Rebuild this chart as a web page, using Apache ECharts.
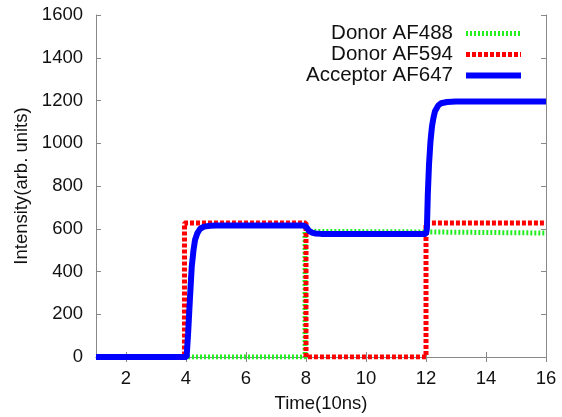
<!DOCTYPE html>
<html>
<head>
<meta charset="utf-8">
<script src="https://cdn.jsdelivr.net/npm/echarts@6/dist/echarts.min.js"></script>
<style>
  html, body { margin: 0; padding: 0; background: #fff; }
  #chart { width: 562px; height: 417px; }
</style>
</head>
<body>
<div id="chart"></div>
<script>
const seriesNames = ['Donor AF488', 'Donor AF594', 'Acceptor AF647'];
const xTicks = [2, 4, 6, 8, 10, 12, 14, 16];
const yTicks = [0, 200, 400, 600, 800, 1000, 1200, 1400, 1600];

// [time (10ns), intensity]
const donor488 = [[1, 0], [7.97, 0], [7.97, 588], [12, 585], [16, 580]];
const donor594 = [[1, 0], [3.95, 0], [3.95, 627], [8.0, 627], [8.0, 0], [12.0, 0], [12.0, 627], [16, 627]];
const acceptor647 = [
  [1, 0], [4.02, 0], [4.07, 110], [4.13, 270], [4.19, 420], [4.25, 500], [4.3, 547],
  [4.38, 580], [4.47, 600], [4.6, 610], [4.8, 614], [5, 615], [7.9, 615],
  [8.0, 610], [8.05, 600], [8.1, 590], [8.2, 582], [8.3, 578], [8.5, 576], [12.0, 575],
  [12.03, 600], [12.06, 760], [12.1, 900], [12.15, 1010], [12.2, 1080], [12.25, 1120],
  [12.3, 1150], [12.4, 1175], [12.5, 1187], [12.7, 1193], [13, 1195], [16, 1195]
];

const font = 'Liberation Sans';
const axisColor = '#888';
const labelSize = 18.5;
const colors = ['#22ee22', '#ff0000', '#0000ff'];
const dashes = [[2, 2], [4, 2], 'solid'];
const widths = [5, 5, 6];

const chart = echarts.init(document.getElementById('chart'));

const tickStyle = { inside: true, length: 5, lineStyle: { color: axisColor } };

chart.setOption({
  animation: false,
  textStyle: { fontFamily: font },
  grid: { left: 96, right: 16, top: 15, bottom: 60, outerBoundsMode: 'none' },
  legend: {
    data: seriesNames.map((name, i) => ({
      name,
      lineStyle: { width: widths[i], type: dashes[i], color: colors[i] },
    })),
    orient: 'vertical',
    align: 'right',
    right: 33,
    top: 18,
    itemWidth: 55,
    itemHeight: 14,
    itemGap: 0,
    itemStyle: { opacity: 0 },
    textStyle: { fontSize: 20.5, lineHeight: 19, color: '#111', fontFamily: font, padding: [0, 8, 0, 0] },
  },
  xAxis: [
    {
      type: 'value', min: 1, max: 16,
      name: 'Time(10ns)', nameLocation: 'middle', nameGap: 37,
      nameTextStyle: { fontSize: labelSize, color: '#111' },
      axisLine: { onZero: false, lineStyle: { color: axisColor } },
      axisTick: Object.assign({ customValues: xTicks }, tickStyle),
      axisLabel: { customValues: xTicks, fontSize: labelSize, color: '#111', margin: 12 },
      splitLine: { show: false },
    },
    {
      type: 'value', min: 1, max: 16, position: 'top',
      axisLine: { lineStyle: { color: axisColor } },
      axisTick: Object.assign({ customValues: xTicks }, tickStyle),
      axisLabel: { show: false, customValues: xTicks },
      splitLine: { show: false },
    },
  ],
  yAxis: [
    {
      type: 'value', min: 0, max: 1600, interval: 200,
      name: 'Intensity(arb. units)', nameLocation: 'middle', nameGap: 64,
      nameTextStyle: { fontSize: labelSize, color: '#111' },
      axisLine: { show: true, lineStyle: { color: axisColor } },
      axisTick: Object.assign({ show: true }, tickStyle),
      axisLabel: { fontSize: labelSize, color: '#111', margin: 13, formatter: v => yTicks.includes(v) ? String(v) : '' },
      splitLine: { show: false },
    },
    {
      type: 'value', min: 0, max: 1600, interval: 200, position: 'right',
      axisLine: { show: true, lineStyle: { color: axisColor } },
      axisTick: Object.assign({ show: true }, tickStyle),
      axisLabel: { show: false },
      splitLine: { show: false },
    },
  ],
  series: [
    {
      name: seriesNames[0], type: 'line', data: donor488, symbol: 'none',
      lineStyle: { color: colors[0], width: widths[0], type: dashes[0] },
      itemStyle: { color: colors[0] },
    },
    {
      name: seriesNames[1], type: 'line', data: donor594, symbol: 'none',
      lineStyle: { color: colors[1], width: widths[1], type: dashes[1] },
      itemStyle: { color: colors[1] },
    },
    {
      name: seriesNames[2], type: 'line', data: acceptor647, symbol: 'none',
      lineStyle: { color: colors[2], width: widths[2] },
      itemStyle: { color: colors[2] },
    },
  ],
});
</script>
</body>
</html>
